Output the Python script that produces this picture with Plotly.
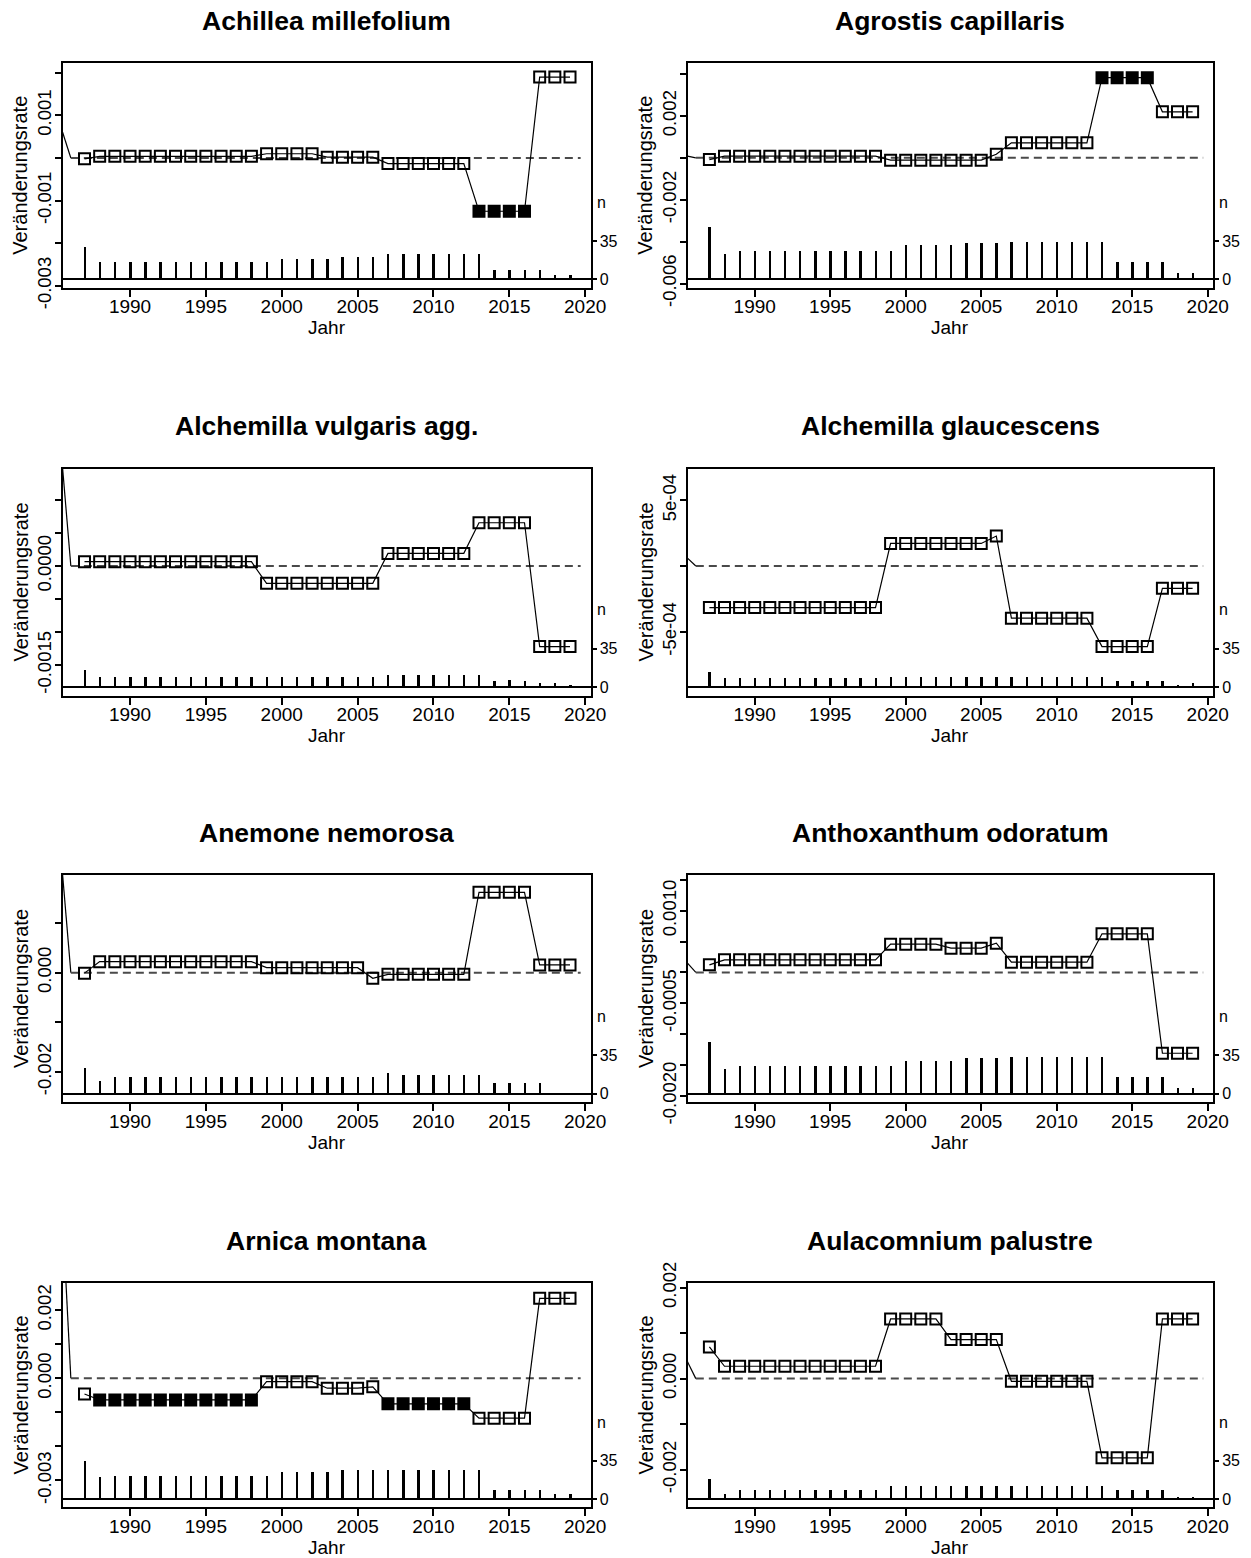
import plotly.graph_objects as go

W, H = 1251, 1558
FONT = "Liberation Sans, Arial, sans-serif"

years = [1987, 1988, 1989, 1990, 1991, 1992, 1993, 1994, 1995, 1996, 1997,
         1998, 1999, 2000, 2001, 2002, 2003, 2004, 2005, 2006, 2007, 2008,
         2009, 2010, 2011, 2012, 2013, 2014, 2015, 2016, 2017, 2018, 2019]

titles = ["Achillea millefolium", "Agrostis capillaris",
          "Alchemilla vulgaris agg.", "Alchemilla glaucescens",
          "Anemone nemorosa", "Anthoxanthum odoratum",
          "Arnica montana", "Aulacomnium palustre"]

# ---- Veränderungsrate (rate of change) per species ----
rate_achillea = [-0.00002,
                 0.00004, 0.00004, 0.00004, 0.00004, 0.00004, 0.00004, 0.00004, 0.00004, 0.00004, 0.00004, 0.00004,
                 0.0001, 0.0001, 0.0001, 0.0001,
                 0.00002, 0.00002, 0.00002, 0.00002,
                 -0.00013, -0.00013, -0.00013, -0.00013, -0.00013, -0.00013,
                 -0.00125, -0.00125, -0.00125, -0.00125,
                 0.0019, 0.0019, 0.0019]
rate_agrostis = [-0.00008,
                 0.00008, 0.00008, 0.00008, 0.00008, 0.00008, 0.00008, 0.00008, 0.00008, 0.00008, 0.00008, 0.00008,
                 -0.00011, -0.00011, -0.00011, -0.00011, -0.00011, -0.00011, -0.00011,
                 0.000175,
                 0.00072, 0.00072, 0.00072, 0.00072, 0.00072, 0.00072,
                 0.00383, 0.00383, 0.00383, 0.00383,
                 0.0022, 0.0022, 0.0022]
rate_alch_vulg = [0.000065, 0.000065, 0.000065, 0.000065, 0.000065, 0.000065, 0.000065, 0.000065, 0.000065, 0.000065, 0.000065, 0.000065,
                  -0.000262, -0.000262, -0.000262, -0.000262, -0.000262, -0.000262, -0.000262, -0.000262,
                  0.000191, 0.000191, 0.000191, 0.000191, 0.000191, 0.000191,
                  0.000655, 0.000655, 0.000655, 0.000655,
                  -0.00122, -0.00122, -0.00122]
rate_alch_glau = [-0.000316, -0.000316, -0.000316, -0.000316, -0.000316, -0.000316, -0.000316, -0.000316, -0.000316, -0.000316, -0.000316, -0.000316,
                  0.000172, 0.000172, 0.000172, 0.000172, 0.000172, 0.000172, 0.000172,
                  0.000228,
                  -0.000397, -0.000397, -0.000397, -0.000397, -0.000397, -0.000397,
                  -0.000613, -0.000613, -0.000613, -0.000613,
                  -0.00017, -0.00017, -0.00017]
rate_anemone = [-0.00001,
                0.000222, 0.000222, 0.000222, 0.000222, 0.000222, 0.000222, 0.000222, 0.000222, 0.000222, 0.000222, 0.000222,
                0.0001, 0.0001, 0.0001, 0.0001, 0.0001, 0.0001, 0.0001,
                -0.000114,
                -0.000034, -0.000034, -0.000034, -0.000034, -0.000034, -0.000034,
                0.00162, 0.00162, 0.00162, 0.00162,
                0.000155, 0.000155, 0.000155]
rate_anthox = [0.000124,
               0.000205, 0.000205, 0.000205, 0.000205, 0.000205, 0.000205, 0.000205, 0.000205, 0.000205, 0.000205, 0.000205,
               0.000459, 0.000459, 0.000459, 0.000459,
               0.000394, 0.000394, 0.000394,
               0.000475,
               0.000167, 0.000167, 0.000167, 0.000167, 0.000167, 0.000167,
               0.000627, 0.000627, 0.000627, 0.000627,
               -0.00131, -0.00131, -0.00131]
rate_arnica = [-0.00046,
               -0.000635, -0.000635, -0.000635, -0.000635, -0.000635, -0.000635, -0.000635, -0.000635, -0.000635, -0.000635, -0.000635,
               -0.0001, -0.0001, -0.0001, -0.0001,
               -0.00029, -0.00029, -0.00029,
               -0.00025,
               -0.00075, -0.00075, -0.00075, -0.00075, -0.00075, -0.00075,
               -0.00117, -0.00117, -0.00117, -0.00117,
               0.00235, 0.00235, 0.00235]
rate_aulacom = [0.000696,
                0.000271, 0.000271, 0.000271, 0.000271, 0.000271, 0.000271, 0.000271, 0.000271, 0.000271, 0.000271, 0.000271,
                0.00131, 0.00131, 0.00131, 0.00131,
                0.000857, 0.000857, 0.000857, 0.000857,
                -0.0000586, -0.0000586, -0.0000586, -0.0000586, -0.0000586, -0.0000586,
                -0.00174, -0.00174, -0.00174, -0.00174,
                0.00131, 0.00131, 0.00131]

# ---- significance flags (1 = filled square) ----
sig_none = [0, 0, 0, 0, 0, 0, 0, 0, 0, 0, 0, 0, 0, 0, 0, 0, 0, 0, 0, 0, 0, 0, 0, 0, 0, 0,
            0, 0, 0, 0, 0, 0, 0]
sig_achillea = [0, 0, 0, 0, 0, 0, 0, 0, 0, 0, 0, 0, 0, 0, 0, 0, 0, 0, 0, 0, 0, 0, 0, 0, 0, 0,
                1, 1, 1, 1, 0, 0, 0]
sig_agrostis = [0, 0, 0, 0, 0, 0, 0, 0, 0, 0, 0, 0, 0, 0, 0, 0, 0, 0, 0, 0, 0, 0, 0, 0, 0, 0,
                1, 1, 1, 1, 0, 0, 0]
sig_arnica = [0, 1, 1, 1, 1, 1, 1, 1, 1, 1, 1, 1, 0, 0, 0, 0, 0, 0, 0, 0, 1, 1, 1, 1, 1, 1,
              0, 0, 0, 0, 0, 0, 0]

# ---- n (number of plots) per year ----
n_achillea = [30, 16, 16, 16, 16, 16, 16, 16, 16, 16, 16, 16, 16, 19, 19, 19, 19, 20.5, 20.5, 20.5,
              23, 23, 23, 23, 23, 23, 23, 9, 9, 9, 9, 4, 4]
n_agrostis = [48, 23, 26, 26, 26, 26, 26, 26, 26, 26, 26, 26, 26, 31, 31, 31, 31, 33, 33, 33,
              34.5, 34.5, 34.5, 34.5, 34.5, 34.5, 34.5, 16, 16, 16, 16, 6, 6]
n_alch_vulg = [16, 10, 10, 10, 10, 10, 10, 10, 10, 10, 10, 10, 10, 10, 10, 10, 10, 10, 10, 10,
               12, 12, 12, 12, 12, 12, 12, 6, 7, 6, 4, 4, 3]
n_alch_glau = [14.5, 8.5, 9, 9, 9, 9, 9, 9, 9, 9, 9, 9, 10, 10, 10, 10, 10, 10, 10, 10,
               10, 10, 10, 10, 10, 10, 10, 6, 6, 6, 6, 3, 4]
n_anemone = [23.6, 12, 15, 15, 15, 15, 15, 15, 15, 15, 15, 15, 15, 15, 15, 15, 15, 15, 15, 15,
             19, 17, 17, 17, 17, 17, 17, 10, 10, 10, 10, 0, 0]
n_anthox = [47, 22, 25, 25, 25, 25, 25, 25, 25, 25, 25, 25, 25, 30, 30, 30, 30, 32.4, 32.4, 32.4,
            33.3, 33.3, 33.3, 33.3, 33.3, 33.3, 33.3, 15, 15, 15, 15, 5, 5]
n_arnica = [35, 20, 21, 21, 21, 21, 21, 21, 21, 21, 21, 21, 21, 25, 25, 25, 25, 26.7, 26.7, 26.7,
            26.7, 26.7, 26.7, 26.7, 26.7, 26.7, 26.7, 8, 8, 8, 8, 4.5, 4.5]
n_aulacom = [18, 5, 8, 8, 8, 8, 8, 8, 8, 8, 8, 8, 11.5, 11.5, 11.5, 11.5, 11.5, 11.5, 11.5, 11.5,
             11.5, 11.5, 11.5, 11.5, 11.5, 11.5, 11.5, 8, 8, 8, 8, 1.5, 1.5]

# ---- lead-in segment (line entering from the left edge down to zero) ----
lead_x = [1985.55, 1986.1]
lead_start = [0.00061, 0.00008, 0.0015, 0.00006, 0.002, 0.00015, 0.0048, 0.00037]

rates = [rate_achillea, rate_agrostis, rate_alch_vulg, rate_alch_glau,
         rate_anemone, rate_anthox, rate_arnica, rate_aulacom]
sigs = [sig_achillea, sig_agrostis, sig_none, sig_none,
        sig_none, sig_none, sig_arnica, sig_none]
ns = [n_achillea, n_agrostis, n_alch_vulg, n_alch_glau,
      n_anemone, n_anthox, n_arnica, n_aulacom]

# ---- y-axis ticks per panel ----
ytickvals = [
    [0.002, 0.001, 0.0, -0.001, -0.002, -0.003],
    [0.004, 0.002, 0.0, -0.002, -0.004, -0.006],
    [0.001, 0.0005, 0.0, -0.0005, -0.001, -0.0015],
    [0.0005, 0.0, -0.0005],
    [0.001, 0.0, -0.001, -0.002],
    [0.0015, 0.001, 0.0005, 0.0, -0.0005, -0.001, -0.0015, -0.002],
    [0.002, 0.001, 0.0, -0.001, -0.002, -0.003],
    [0.002, 0.001, 0.0, -0.001, -0.002],
]
yticktext = [
    ["", "0.001", "", "-0.001", "", "-0.003"],
    ["", "0.002", "", "-0.002", "", "-0.006"],
    ["", "", "0.0000", "", "", "-0.0015"],
    ["5e-04", "", "-5e-04"],
    ["", "0.000", "", "-0.002"],
    ["", "0.0010", "", "", "-0.0005", "", "", "-0.0020"],
    ["0.002", "", "0.000", "", "", "-0.003"],
    ["0.002", "", "0.000", "", "-0.002"],
]
n_ticks = [0, 35]
n_ticktext = ["0", "35"]
x_ticks = [1990, 1995, 2000, 2005, 2010, 2015, 2020]

# ---- layout (styles / positions) ----
yranges = [[-0.00304, 0.00223], [-0.00619, 0.00453], [-0.00196, 0.001476],
           [-0.000985, 0.000742], [-0.00261, 0.00197], [-0.0021, 0.00158],
           [-0.00378, 0.0028], [-0.00282, 0.0021]]
XRANGE = [1985.55, 2020.35]
NRANGE = [-7.3, 197]
ZERO_END = 2019.7
cols = [(62.5, 590.5), (687.5, 1213)]
rows = [(63, 287.5), (468.5, 695.5), (875, 1102), (1283, 1507)]

fig = go.Figure()
annotations = []
layout = {}

def ax_name(prefix, k):
    return prefix if k == 1 else f"{prefix}{k}"

for i in range(8):
    r, c = divmod(i, 2)
    x0, x1 = cols[c]
    y0, y1 = rows[r]
    xk, yk, nk = i + 1, 2 * i + 1, 2 * i + 2
    xa, ya, na = ax_name("x", xk), ax_name("y", yk), ax_name("y", nk)

    layout[ax_name("xaxis", xk)] = dict(
        domain=[x0 / W, x1 / W], anchor=ya, range=XRANGE, automargin=False,
        tickvals=x_ticks, ticks="outside", ticklen=7, tickwidth=1.5,
        tickcolor="black", showline=True, mirror=True, linewidth=2,
        linecolor="black", showgrid=False, zeroline=False,
        ticklabelstandoff=-6,
        tickfont=dict(size=19, color="black", family=FONT))
    layout[ax_name("yaxis", yk)] = dict(
        domain=[1 - y1 / H, 1 - y0 / H], anchor=xa, range=yranges[i],
        automargin=False,
        tickvals=ytickvals[i], ticktext=yticktext[i], ticks="outside",
        ticklen=6, tickwidth=1.5, tickcolor="black", showline=True,
        mirror=True, linewidth=2, linecolor="black", showgrid=False,
        zeroline=False, tickangle=-90, ticklabelstandoff=-4,
        tickfont=dict(size=18.5, color="black", family=FONT))
    layout[ax_name("yaxis", nk)] = dict(
        overlaying=ya, anchor=xa, side="right", range=NRANGE, automargin=False,
        tickvals=n_ticks, ticktext=n_ticktext, ticks="outside", ticklen=5,
        tickwidth=1.5, tickcolor="black", showline=False, showgrid=False,
        zeroline=True, zerolinecolor="black", zerolinewidth=2,
        tickfont=dict(size=16, color="black", family=FONT))

    # lead-in line
    fig.add_trace(go.Scatter(x=lead_x, y=[lead_start[i], 0], mode="lines",
                             line=dict(color="black", width=1.2),
                             xaxis=xa, yaxis=ya, hoverinfo="skip"))
    # dashed zero line
    fig.add_trace(go.Scatter(x=[lead_x[-1], ZERO_END], y=[0, 0], mode="lines",
                             line=dict(color="#4a4a4a", width=2, dash="8px,5px"),
                             xaxis=xa, yaxis=ya, hoverinfo="skip"))
    # rate series
    symbols = ["square" if s else "square-open" for s in sigs[i]]
    fig.add_trace(go.Scatter(x=years, y=rates[i], mode="lines+markers",
                             line=dict(color="black", width=1.2),
                             marker=dict(symbol=symbols, size=11, color="black",
                                         line=dict(color="black", width=2)),
                             xaxis=xa, yaxis=ya))
    # n spikes
    fig.add_trace(go.Bar(x=years, y=ns[i], width=0.13,
                         marker=dict(color="black", line=dict(width=0)),
                         xaxis=xa, yaxis=na))

    cx = (x0 + x1) / 2 / W
    annotations.append(dict(text=f"<b>{titles[i]}</b>", x=cx, y=1 - (y0 - 42) / H,
                            xref="paper", yref="paper", showarrow=False,
                            xanchor="center", yanchor="middle",
                            font=dict(size=26.5, color="black", family=FONT)))
    annotations.append(dict(text="Jahr", x=cx, y=1 - (y1 + 40) / H,
                            xref="paper", yref="paper", showarrow=False,
                            xanchor="center", yanchor="middle",
                            font=dict(size=19, color="black", family=FONT)))
    annotations.append(dict(text="Veränderungsrate", x=(x0 - 42) / W,
                            y=1 - (y0 + y1) / 2 / H, xref="paper", yref="paper",
                            showarrow=False, textangle=-90, xanchor="center",
                            yanchor="middle",
                            font=dict(size=20, color="black", family=FONT)))
    annotations.append(dict(text="n", x=(x1 + 4) / W, y=70, xref="paper", yref=na,
                            showarrow=False, xanchor="left", yanchor="middle",
                            font=dict(size=16, color="black", family=FONT)))

fig.update_layout(template="none", width=W, height=H,
                  margin=dict(l=0, r=0, t=0, b=0, pad=0, autoexpand=False),
                  paper_bgcolor="white", plot_bgcolor="white",
                  showlegend=False, bargap=0, annotations=annotations,
                  font=dict(family=FONT, color="black"), **layout)

fig.write_html("out.html")
